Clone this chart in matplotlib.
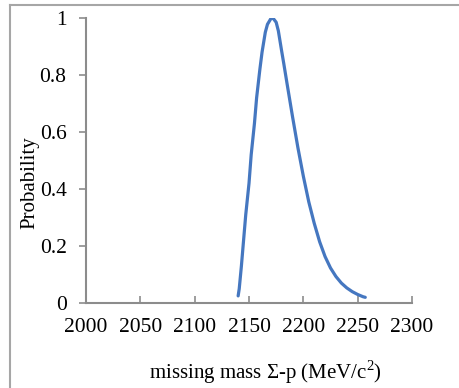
import matplotlib
matplotlib.use("Agg")
import matplotlib.pyplot as plt
from matplotlib.lines import Line2D
from matplotlib.ticker import FuncFormatter

plt.rcParams['font.family'] = ['Liberation Serif', 'DejaVu Serif']
plt.rcParams['mathtext.fontset'] = 'custom'
plt.rcParams['mathtext.rm'] = 'Liberation Serif'

# missing mass (MeV/c^2) and probability
mass = [2140, 2141, 2143, 2145, 2147, 2150, 2152, 2155, 2157, 2160, 2162, 2165,
        2167, 2170, 2172, 2175, 2177, 2180, 2182, 2185, 2190, 2195, 2200, 2205,
        2210, 2215, 2220, 2225, 2230, 2235, 2240, 2245, 2250, 2255, 2257]
prob = [0.025, 0.05, 0.13, 0.22, 0.31, 0.42, 0.52, 0.63, 0.72, 0.82, 0.88, 0.95,
        0.978, 0.997, 1.0, 0.985, 0.955, 0.885, 0.84, 0.77, 0.655, 0.545, 0.445, 0.355,
        0.28, 0.215, 0.163, 0.123, 0.093, 0.07, 0.053, 0.04, 0.03, 0.022, 0.02]

xticks = [2000, 2050, 2100, 2150, 2200, 2250, 2300]
yticks = [0, 0.2, 0.4, 0.6, 0.8, 1]

fig = plt.figure(figsize=(4.59, 3.88), dpi=100)
ax = fig.add_axes([0.1874, 0.219, 0.7102, 0.7346])

ax.plot(mass, prob, color='#4577c0', lw=2.3, solid_capstyle='round',
        solid_joinstyle='round')

ax.set_xlim(2000, 2300)
ax.set_ylim(0, 1)
ax.set_xticks(xticks)
ax.set_yticks(yticks)
ax.yaxis.set_major_formatter(FuncFormatter(lambda v, p: f"{v:g}"))

for s in ['top', 'right']:
    ax.spines[s].set_visible(False)
for s in ['left', 'bottom']:
    ax.spines[s].set_color('#8c8c8c')
    ax.spines[s].set_linewidth(1.5)

ax.tick_params(axis='x', direction='in', length=5, width=1.2, color='#8c8c8c',
               labelsize=15.5, pad=11)
ax.tick_params(axis='y', direction='out', length=5, width=1.2, color='#8c8c8c',
               labelsize=15.5, pad=9)

ax.set_ylabel('Probability', fontsize=15, va='center')
ax.yaxis.set_label_coords(-0.172, 0.423)
ax.set_xlabel(r'missing mass Σ-p (MeV/c$^{2}$)', fontsize=15, va='center')
ax.xaxis.set_label_coords(0.551, -0.242)

# outer frame (only top and left edges are visible in the crop)
fig.add_artist(Line2D([9.5 / 459, 1], [1 - 5 / 388, 1 - 5 / 388],
                      transform=fig.transFigure, color='#a6a6a6', lw=1.5))
fig.add_artist(Line2D([9.5 / 459, 9.5 / 459], [0, 1 - 5 / 388],
                      transform=fig.transFigure, color='#a6a6a6', lw=1.5))

fig.savefig('out.png', dpi=100)
